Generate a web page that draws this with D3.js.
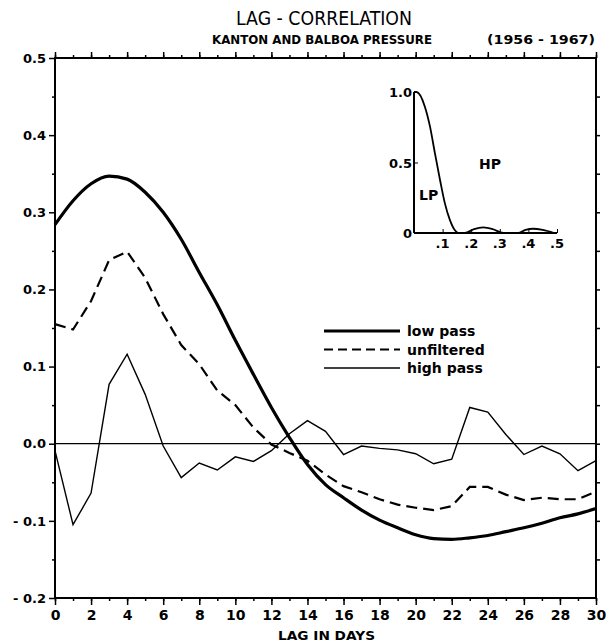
<!DOCTYPE html>
<html>
<head>
<meta charset="utf-8">
<script src="https://cdn.jsdelivr.net/npm/d3@7"></script>
<style>
  body { margin: 0; background: #fff; }
  text { font-family: "DejaVu Sans", sans-serif; fill: #000; }
</style>
</head>
<body>
<svg id="chart" width="610" height="643"></svg>
<script>
// lag in days, 0..30
var lags = d3.range(0, 31);

var lowPass = [0.284, 0.315, 0.337, 0.347, 0.343, 0.326, 0.300, 0.265, 0.222, 0.180,
    0.134, 0.090, 0.047, 0.008, -0.027, -0.053, -0.070, -0.086, -0.099, -0.109,
    -0.118, -0.123, -0.124, -0.122, -0.119, -0.114, -0.109, -0.103, -0.096, -0.091, -0.084];

var unfiltered = [0.155, 0.148, 0.185, 0.238, 0.249, 0.215, 0.168, 0.128, 0.103, 0.069,
    0.050, 0.021, -0.001, -0.012, -0.022, -0.040, -0.055, -0.063, -0.072, -0.079,
    -0.083, -0.086, -0.081, -0.056, -0.056, -0.066, -0.073, -0.070, -0.072, -0.072, -0.062];

var highPass = [-0.009, -0.105, -0.064, 0.077, 0.116, 0.064, -0.003, -0.044, -0.025, -0.034,
    -0.017, -0.023, -0.009, 0.013, 0.030, 0.016, -0.014, -0.003, -0.006, -0.008,
    -0.013, -0.026, -0.020, 0.047, 0.041, 0.012, -0.014, -0.003, -0.013, -0.035, -0.022];

var xTicks = d3.range(0, 31, 2);
var yTicks = [-0.2, -0.1, 0.0, 0.1, 0.2, 0.3, 0.4, 0.5];

// inset: filter response vs frequency (cycles/day)
var insetFreq = [0, 0.009, 0.038, 0.056, 0.073, 0.091, 0.108, 0.126, 0.143, 0.155,
    0.178, 0.21, 0.242, 0.275, 0.312, 0.364, 0.39, 0.416, 0.45, 0.49];
var insetResp = [1.0, 1.0, 0.896, 0.754, 0.567, 0.376, 0.21, 0.09, 0.02, 0.0,
    0.0, 0.028, 0.04, 0.028, 0.0, 0.0, 0.022, 0.03, 0.022, 0.0];
var insetXTicks = [0.1, 0.2, 0.3, 0.4, 0.5];
var insetYTicks = [0, 0.5, 1.0];

var svg = d3.select('#chart');

var x = d3.scaleLinear([0, 30], [55, 596]);
var y = d3.scaleLinear([-0.2, 0.5], [598, 58]);

function fmtY(d) {
    var s = d3.format('.1f')(Math.abs(d));
    return d < 0 ? '- ' + s : s;
}

// frame lines
svg.append('rect')
    .attr('x', x(0)).attr('y', y(0.5))
    .attr('width', x(30) - x(0)).attr('height', y(-0.2) - y(0.5))
    .attr('fill', 'none').attr('stroke', '#000').attr('stroke-width', 2);

// bottom axis
var bottomAx = svg.append('g').attr('transform', 'translate(0,' + y(-0.2) + ')');
bottomAx.call(d3.axisBottom(x).tickValues(lags).tickSize(3).tickFormat(''))
    .call(function(g) { g.select('.domain').remove(); });
bottomAx.append('g')
    .call(d3.axisBottom(x).tickValues(xTicks).tickSize(7).tickFormat(d3.format('d')))
    .call(function(g) {
        g.select('.domain').remove();
        g.selectAll('text').attr('dy', '0.85em').attr('y', 10)
            .style('font-size', '14px').style('font-weight', 'bold');
    });

// top axis
var topAx = svg.append('g').attr('transform', 'translate(0,' + y(0.5) + ')');
topAx.call(d3.axisTop(x).tickValues(lags).tickSize(3).tickFormat(''))
    .call(function(g) { g.select('.domain').remove(); });
topAx.append('g')
    .call(d3.axisTop(x).tickValues(xTicks).tickSize(6).tickFormat(''))
    .call(function(g) { g.select('.domain').remove(); });

// left axis
var leftAx = svg.append('g').attr('transform', 'translate(' + x(0) + ',0)');
leftAx.call(d3.axisLeft(y).tickValues(d3.range(-0.15, 0.5, 0.1)).tickSize(3).tickFormat(''))
    .call(function(g) { g.select('.domain').remove(); });
leftAx.append('g')
    .call(d3.axisLeft(y).tickValues(yTicks).tickSize(6).tickFormat(fmtY))
    .call(function(g) {
        g.select('.domain').remove();
        g.selectAll('text').attr('x', -9)
            .style('font-size', '13px').style('font-weight', 'bold');
    });

// right axis
var rightAx = svg.append('g').attr('transform', 'translate(' + x(30) + ',0)');
rightAx.call(d3.axisRight(y).tickValues(d3.range(-0.15, 0.5, 0.05)).tickSize(4).tickFormat(''))
    .call(function(g) { g.select('.domain').remove(); });

svg.selectAll('.tick line').attr('stroke-width', 1.5);

// zero line
svg.append('line')
    .attr('x1', x(0)).attr('x2', x(30))
    .attr('y1', y(0)).attr('y2', y(0))
    .attr('stroke', '#000').attr('stroke-width', 1.3);

var line = function(vals) {
    return d3.line().x(function(d, i) { return x(lags[i]); }).y(function(d) { return y(d); })(vals);
};

svg.append('path').attr('d', line(highPass))
    .attr('fill', 'none').attr('stroke', '#000').attr('stroke-width', 1.4);
svg.append('path').attr('d', line(unfiltered))
    .attr('fill', 'none').attr('stroke', '#000').attr('stroke-width', 2.2)
    .attr('stroke-dasharray', '11,6');
svg.append('path')
    .attr('d', d3.line().curve(d3.curveMonotoneX)
        .x(function(d, i) { return x(lags[i]); }).y(function(d) { return y(d); })(lowPass))
    .attr('fill', 'none').attr('stroke', '#000').attr('stroke-width', 3.2);

// legend
var legend = [
    { name: 'low pass', w: 3.2, dash: null },
    { name: 'unfiltered', w: 2.2, dash: '9,5' },
    { name: 'high pass', w: 1.4, dash: null }
];
var lg = svg.append('g');
legend.forEach(function(l, i) {
    var ly = 331 + i * 18.5;
    lg.append('line').attr('x1', 324).attr('x2', 400).attr('y1', ly).attr('y2', ly)
        .attr('stroke', '#000').attr('stroke-width', l.w)
        .attr('stroke-dasharray', l.dash);
    lg.append('text').attr('x', 407).attr('y', ly + 5)
        .style('font-size', '14px').style('font-weight', 'bold').text(l.name);
});

// inset
var ix = d3.scaleLinear([0, 0.5], [414, 557]);
var iy = d3.scaleLinear([0, 1], [233, 92]);
var inset = svg.append('g');
inset.append('line').attr('x1', ix(0)).attr('x2', ix(0.5)).attr('y1', iy(0)).attr('y2', iy(0))
    .attr('stroke', '#000').attr('stroke-width', 2);
inset.append('line').attr('x1', ix(0)).attr('x2', ix(0)).attr('y1', iy(0)).attr('y2', iy(1))
    .attr('stroke', '#000').attr('stroke-width', 2);
inset.append('g').attr('transform', 'translate(0,' + iy(0) + ')')
    .call(d3.axisTop(ix).tickValues(insetXTicks).tickSize(4).tickFormat(''))
    .call(function(g) { g.select('.domain').remove(); });
inset.selectAll('.ixl').data(insetXTicks).enter().append('text')
    .attr('x', function(d) { return ix(d); }).attr('y', iy(0) + 15)
    .attr('text-anchor', 'middle')
    .style('font-size', '13px').style('font-weight', 'bold')
    .text(function(d) { return '.' + Math.round(d * 10); });
inset.append('g').attr('transform', 'translate(' + ix(0) + ',0)')
    .call(d3.axisRight(iy).tickValues(insetYTicks).tickSize(4).tickFormat(''))
    .call(function(g) { g.select('.domain').remove(); });
inset.selectAll('.iyl').data(insetYTicks).enter().append('text')
    .attr('x', ix(0) - 2).attr('y', function(d) { return iy(d) + 5; })
    .attr('text-anchor', 'end')
    .style('font-size', '13px').style('font-weight', 'bold')
    .text(function(d) { return d === 0 ? '0' : d3.format('.1f')(d); });
inset.append('path')
    .attr('d', d3.line().curve(d3.curveMonotoneX)
        .x(function(d, i) { return ix(insetFreq[i]); }).y(function(d) { return iy(d); })(insetResp))
    .attr('fill', 'none').attr('stroke', '#000').attr('stroke-width', 1.8);
inset.append('text').attr('x', 419).attr('y', 200)
    .style('font-size', '14px').style('font-weight', 'bold').text('LP');
inset.append('text').attr('x', 479).attr('y', 169)
    .style('font-size', '14px').style('font-weight', 'bold').text('HP');

// titles
svg.append('text').attr('x', 236).attr('y', 25)
    .attr('textLength', 176).attr('lengthAdjust', 'spacingAndGlyphs')
    .style('font-family', '"DejaVu Sans Condensed", "DejaVu Sans", sans-serif')
    .style('font-size', '20px').text('LAG - CORRELATION');
svg.append('text').attr('x', 212).attr('y', 44)
    .attr('textLength', 220).attr('lengthAdjust', 'spacingAndGlyphs')
    .style('font-size', '12.5px').style('font-weight', 'bold').text('KANTON AND BALBOA PRESSURE');
svg.append('text').attr('x', 487).attr('y', 44)
    .attr('textLength', 108).attr('lengthAdjust', 'spacingAndGlyphs')
    .style('font-size', '13px').style('font-weight', 'bold').text('(1956 - 1967)');
svg.append('text').attr('x', 278).attr('y', 640)
    .attr('textLength', 97).attr('lengthAdjust', 'spacingAndGlyphs')
    .style('font-size', '13px').style('font-weight', 'bold').text('LAG IN DAYS');
</script>
</body>
</html>
